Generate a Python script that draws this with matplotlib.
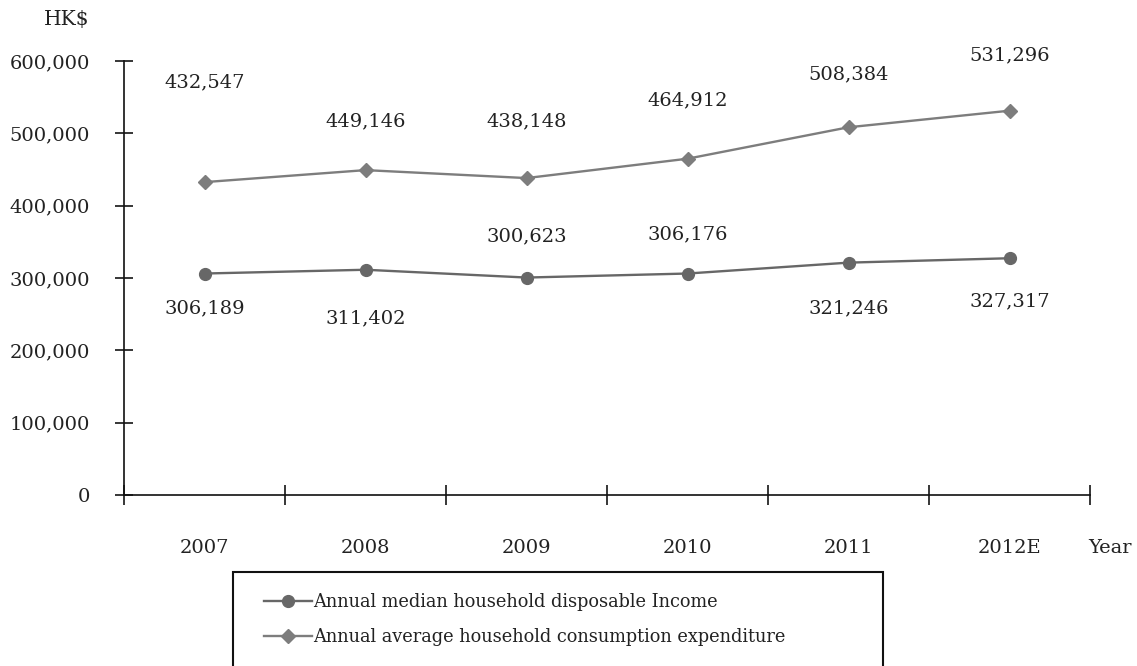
import numpy as np
import matplotlib.pyplot as plt
from matplotlib.patches import Rectangle

# series
years = ['2007', '2008', '2009', '2010', '2011', '2012E']
median_income = [306189, 311402, 300623, 306176, 321246, 327317]
avg_expenditure = [432547, 449146, 438148, 464912, 508384, 531296]
income_name = 'Annual median household disposable Income'
expend_name = 'Annual average household consumption expenditure'
yticks = [0, 100000, 200000, 300000, 400000, 500000, 600000]

# label offsets in points (dx, dy)
income_off = [(0, -25), (0, -35), (0, 30), (0, 28), (0, -33), (0, -31)]
expend_off = [(0, 72), (0, 35), (0, 41), (0, 42), (0, 38), (0, 40)]

plt.rcParams['font.family'] = ['DejaVu Serif']
plt.rcParams['font.size'] = 14
txt = '#222222'

fig = plt.figure(figsize=[11.37, 6.66], dpi=100)
ax = fig.add_axes([124/1137, 171/666, 966/1137, 434/666])

x = np.arange(len(years))
c_inc = '#676767'
c_exp = '#7d7d7d'
ax.plot(x, median_income, color=c_inc, lw=1.7, marker='o', ms=8.5, label=income_name)
ax.plot(x, avg_expenditure, color=c_exp, lw=1.7, marker='D', ms=6.7, label=expend_name)

for i in range(len(x)):
    ax.annotate('{:,}'.format(median_income[i]), (x[i], median_income[i]),
                xytext=income_off[i], textcoords='offset points',
                ha='center', va='center', color=txt, fontsize=14)
    ax.annotate('{:,}'.format(avg_expenditure[i]), (x[i], avg_expenditure[i]),
                xytext=expend_off[i], textcoords='offset points',
                ha='center', va='center', color=txt, fontsize=14)

ax.set_xlim(-0.5, len(years) - 0.5)
ax.set_ylim(0, 600000)
for s in ['top', 'right']:
    ax.spines[s].set_visible(False)
for s in ['left', 'bottom']:
    ax.spines[s].set_linewidth(1.2)
    ax.spines[s].set_color('#111111')

ax.set_yticks(yticks)
ax.set_yticklabels(['{:,}'.format(v) for v in yticks], color=txt)
ax.tick_params(axis='y', direction='inout', length=13, width=1.1, pad=18)

ax.set_xticks(x)
ax.set_xticklabels(years, color=txt)
ax.set_xticks(np.arange(-0.5, len(years)), minor=True)
ax.tick_params(axis='x', which='major', length=0, pad=32)
ax.tick_params(axis='x', which='minor', direction='inout', length=15, width=1.1)

fig.text(89/1137, 1 - 20/666, 'HK$', ha='right', va='center', color=txt, fontsize=14.5)
fig.text(1110/1137, 1 - 548/666, 'Year', ha='center', va='center', color=txt, fontsize=14)

# legend box running off the bottom edge
fig.patches.append(Rectangle((233/1137, -0.05), 650/1137, 0.05 + 94/666,
                             transform=fig.transFigure, fill=False,
                             edgecolor='#111111', lw=1.5))
fig.legend(loc='upper left', bbox_to_anchor=(264/1137, 1 - 593/666), frameon=False,
           handlelength=2.7, handletextpad=0.05, labelspacing=0.95,
           borderpad=0, borderaxespad=0, fontsize=12.8, labelcolor=txt)

fig.savefig('out.png', dpi=100)
